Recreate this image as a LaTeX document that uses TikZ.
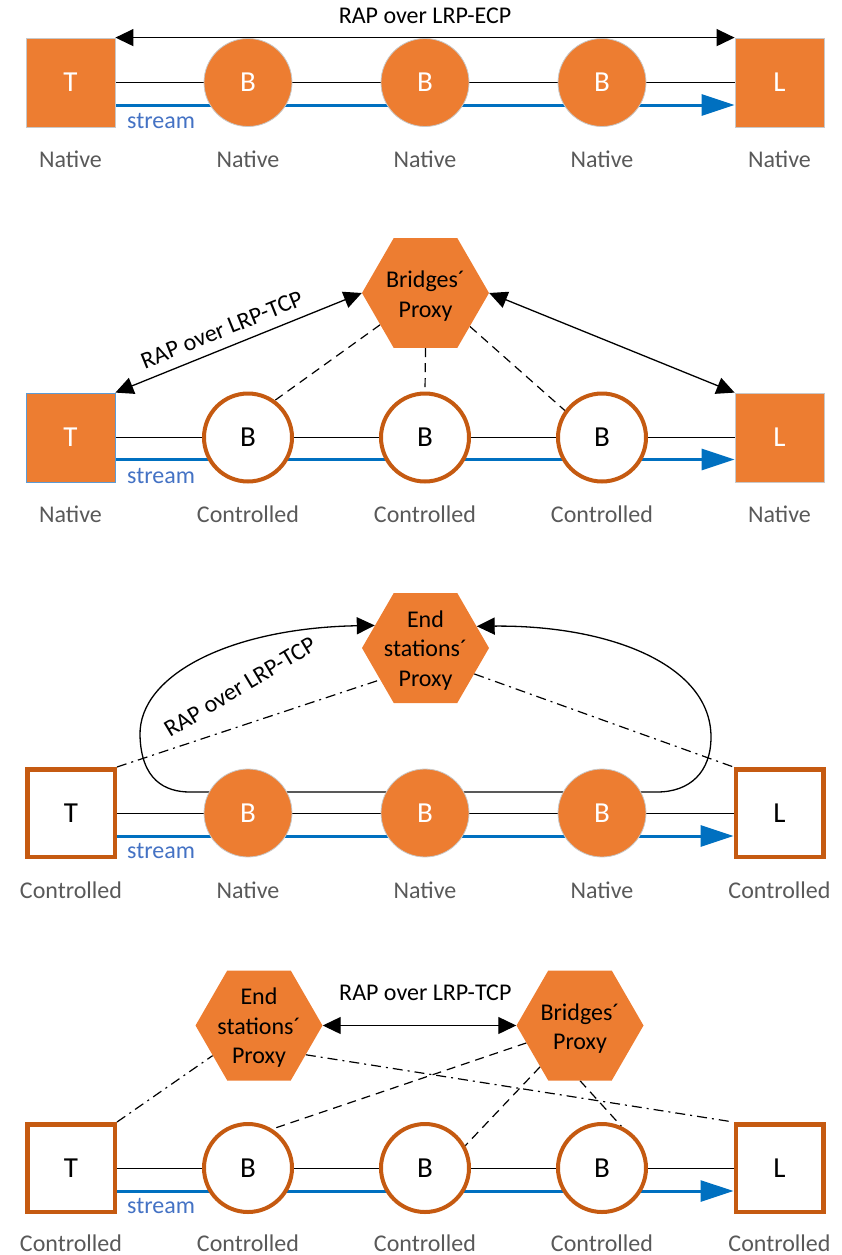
\documentclass[tikz,border=0pt]{standalone}
\usepackage{fontspec}
\setmainfont{Carlito}
\usetikzlibrary{shapes.geometric,arrows.meta,backgrounds}
\definecolor{orng}{HTML}{ED7D31}
\definecolor{brdr}{HTML}{C55A11}
\definecolor{strm}{HTML}{0070C0}
\definecolor{strmtxt}{HTML}{4472C4}
\definecolor{lbl}{HTML}{595959}
\definecolor{nbord}{HTML}{C8C8C8}
\definecolor{bbord}{HTML}{5B9BD5}
\begin{document}
\begin{tikzpicture}[x=1pt,y=-1pt,
  txt/.style={font=\fontsize{24}{29.5}\selectfont, inner sep=0pt},
  letter/.style={font=\fontsize{29}{34}\selectfont},
  natsq/.style={rectangle, fill=orng, draw=nbord, line width=0.8pt, minimum size=89pt, inner sep=0pt, letter, text=white},
  ctlsq/.style={rectangle, fill=white, draw=brdr, line width=4.5pt, minimum size=87.5pt, inner sep=0pt, letter, text=black},
  natbr/.style={circle, fill=orng, draw=nbord, line width=0.8pt, minimum size=88pt, inner sep=0pt, letter, text=white},
  ctlbr/.style={circle, fill=white, draw=brdr, line width=4pt, minimum size=88pt, inner sep=0pt, letter, text=black},
  proxy/.style={regular polygon, regular polygon sides=6, fill=orng, minimum size=127pt, inner sep=0pt},
  ptext/.style={txt, align=center, text=black},
  lab/.style={txt, text=lbl, anchor=base},
  strlab/.style={txt, text=strmtxt, anchor=base west},
  link/.style={line width=1pt, black},
  strline/.style={line width=3pt, strm, -{Triangle[length=33pt,width=21pt]}},
  rap/.style={line width=1.3pt, {Triangle[length=18pt,width=17pt]}-{Triangle[length=18pt,width=17pt]}},
  ctrl/.style={line width=1.2pt, dash pattern=on 9pt off 6pt},
  ectrl/.style={line width=1.2pt, dash pattern=on 10pt off 5pt on 2pt off 5pt}]

\useasboundingbox (0,0) rectangle (841,1255);

% ---------- row 1: all native, RAP over LRP-ECP ----------
\node[natsq] (t1) at (70.5,82.5) {T};
\node[natbr] (b1a) at (248,82.5) {B};
\node[natbr] (b1b) at (425,82.5) {B};
\node[natbr] (b1c) at (602,82.5) {B};
\node[natsq] (l1) at (779.5,82.5) {L};
\node[strlab] (s1) at (127,128) {stream};
\node[lab] at (70.5,167.5) {Native};
\node[lab] at (248,167.5) {Native};
\node[lab] at (425,167.5) {Native};
\node[lab] at (602,167.5) {Native};
\node[lab] at (779.5,167.5) {Native};

% ---------- row 2: controlled bridges, bridges' proxy ----------
\node[natsq, draw=bbord] (t2) at (70.5,437.5) {T};
\node[ctlbr] (b2a) at (248,437.5) {B};
\node[ctlbr] (b2b) at (425,437.5) {B};
\node[ctlbr] (b2c) at (602,437.5) {B};
\node[natsq] (l2) at (779.5,437.5) {L};
\node[proxy] (bp2) at (425.5,293) {};
\node[ptext] at (425.5,296) {Bridges´\\Proxy};
\node[strlab] (s2) at (127,483) {stream};
\node[lab] at (70.5,522.5) {Native};
\node[lab] at (248,522.5) {Controlled};
\node[lab] at (425,522.5) {Controlled};
\node[lab] at (602,522.5) {Controlled};
\node[lab] at (779.5,522.5) {Native};

% ---------- row 3: controlled end stations, end stations' proxy ----------
\node[ctlsq] (t3) at (71,813) {T};
\node[natbr] (b3a) at (248,813) {B};
\node[natbr] (b3b) at (425,813) {B};
\node[natbr] (b3c) at (602,813) {B};
\node[ctlsq] (l3) at (779.5,813) {L};
\node[proxy] (esp3) at (425.5,648) {};
\node[ptext] at (425.5,650.5) {End\\stations´\\Proxy};
\node[strlab] (s3) at (127,858.5) {stream};
\node[lab] at (71,898) {Controlled};
\node[lab] at (248,898) {Native};
\node[lab] at (425,898) {Native};
\node[lab] at (602,898) {Native};
\node[lab] at (779.5,898) {Controlled};
\node[txt, rotate=31] at (240,687) {RAP over LRP-TCP};

% ---------- row 4: everything controlled, two proxies ----------
\node[ctlsq] (t4) at (71,1168) {T};
\node[ctlbr] (b4a) at (248,1168) {B};
\node[ctlbr] (b4b) at (425,1168) {B};
\node[ctlbr] (b4c) at (602,1168) {B};
\node[ctlsq] (l4) at (779.5,1168) {L};
\node[proxy] (esp4) at (259,1025.5) {};
\node[ptext] at (259,1028) {End\\stations´\\Proxy};
\node[proxy] (bp4) at (580,1025.5) {};
\node[ptext] at (580,1028.5) {Bridges´\\Proxy};
\node[strlab] (s4) at (127,1213.5) {stream};
\node[lab] at (71,1251) {Controlled};
\node[lab] at (248,1251) {Controlled};
\node[lab] at (425,1251) {Controlled};
\node[lab] at (602,1251) {Controlled};
\node[lab] at (779.5,1251) {Controlled};

\begin{pgfonlayer}{background}
  % row 1
  \draw[link] (t1) -- (b1a) (b1a) -- (b1b) (b1b) -- (b1c) (b1c) -- (l1);
  \draw[strline] ([yshift=-22.5pt]t1.east) -- ([yshift=-22.5pt]l1.west);
  \draw[rap] (t1.north east) -- node[txt, anchor=base, yshift=14pt] {RAP over LRP-ECP} (l1.north west);

  % row 2
  \draw[link] (t2) -- (b2a) (b2a) -- (b2b) (b2b) -- (b2c) (b2c) -- (l2);
  \draw[strline] ([yshift=-22pt]t2.east) -- ([yshift=-22pt]l2.west);
  \draw[rap] (t2.north east) -- node[txt, sloped, above=10pt, pos=0.46] {RAP over LRP-TCP} (bp2.west);
  \draw[rap] (bp2.east) -- (l2.north west);
  \draw[ctrl] (bp2.215.5) -- (b2a.54);
  \draw[ctrl] (bp2.south) -- (b2b.north);
  \draw[ctrl] (bp2.-37) -- (b2c.144.5);

  % row 3
  \draw[link] (t3) -- (b3a) (b3a) -- (b3b) (b3b) -- (b3c) (b3c) -- (l3);
  \draw[strline] ([yshift=-23pt]t3.east) -- ([yshift=-23pt]l3.west);
  \draw[rap] (esp3.156.5) .. controls (230,628) and (139,675) .. (140,735)
        .. controls (141,780) and (165,792) .. (190,792) -- (657,792)
        .. controls (690,792) and (711,772) .. (711,737)
        .. controls (711,665) and (610,625) .. (esp3.23.5);
  \draw[ectrl] (t3.north east) -- (esp3.215.6);
  \draw[ectrl] (esp3.-28.6) -- (l3.north west);

  % row 4
  \draw[link] (t4) -- (b4a) (b4a) -- (b4b) (b4b) -- (b4c) (b4c) -- (l4);
  \draw[strline] ([yshift=-23pt]t4.east) -- ([yshift=-23pt]l4.west);
  \draw[rap] (esp4.east) -- node[txt, anchor=base, yshift=25pt, pos=0.53] {RAP over LRP-TCP} (bp4.west);
  \draw[ectrl] (t4.north east) -- (esp4.213.8);
  \draw[ectrl] (esp4.-32) -- (l4.north west);
  \draw[ctrl] (bp4.198) -- (b4a.58.8);
  \draw[ctrl] (bp4.226) -- (b4b.29);
  \draw[ctrl] (bp4.south) -- (b4c.65.8);
\end{pgfonlayer}
\end{tikzpicture}
\end{document}
